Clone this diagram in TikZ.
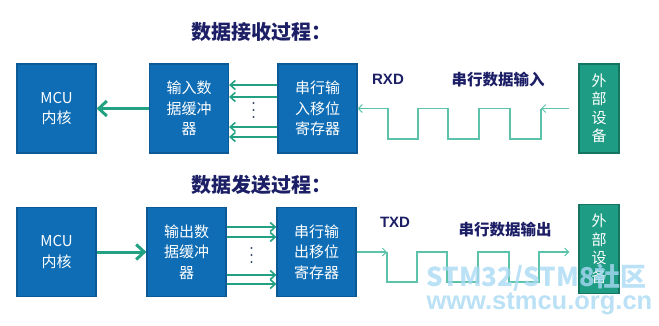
\documentclass[tikz,border=0pt]{standalone}
\usepackage{fontspec}
\setmainfont{Liberation Sans}
\newfontfamily\cjk{Noto Sans CJK SC}
\definecolor{boxblue}{HTML}{0F6DB5}
\definecolor{boxblueline}{HTML}{0B5A96}
\definecolor{devgreen}{HTML}{1E9C84}
\definecolor{devgreenline}{HTML}{157560}
\definecolor{arrowgreen}{HTML}{22A283}
\definecolor{wavegreen}{HTML}{5CC2AA}
\definecolor{titlenavy}{HTML}{1C1F66}
\definecolor{markblue}{HTML}{A9D9F2}
\definecolor{dotgray}{HTML}{3A4A6A}
\usetikzlibrary{arrows.meta, positioning, calc}
\tikzset{
	corebox/.style={
			rectangle,
			draw=boxblueline,
			fill=boxblue,
			line width=1.2pt,
			text=white,
			minimum width=79pt,
			minimum height=89pt,
			align=center,
			inner sep=0pt,
			font=\cjk\fontsize{15}{20.5}\selectfont
		},
	devbox/.style={
			corebox,
			draw=devgreenline,
			fill=devgreen,
			minimum width=40pt,
			font=\cjk\fontsize{15}{18.5}\selectfont
		},
	titletext/.style={
			text=titlenavy,
			font=\cjk\bfseries\fontsize{20}{22}\selectfont
		},
	labeltext/.style={
			text=titlenavy,
			font=\cjk\bfseries\fontsize{15.5}{18}\selectfont
		},
	pintext/.style={
			text=titlenavy,
			font=\bfseries\fontsize{15}{18}\selectfont
		},
	marktext/.style={
			text=markblue,
			opacity=0.8,
			anchor=west
		},
	bigarrow/.style={
			draw=arrowgreen,
			line width=3pt,
			-{Straight Barb[length=8pt,width=15pt,line width=3pt]}
		},
	busarrow/.style={
			draw=arrowgreen,
			line width=1.8pt,
			-{Straight Barb[length=5pt,width=9pt,line width=1.6pt]}
		},
	wave/.style={
			draw=wavegreen,
			line width=1.1pt
		},
	wavehead/.style={
			wave,
			-{Straight Barb[length=4pt,width=8pt,line width=1pt]}
		}
}
\begin{document}
\begin{tikzpicture}[x=1pt,y=-1pt]
\useasboundingbox (0,0) rectangle (659,325);

% receive
\node[titletext] (titleA) at (261,32) {数据接收过程：};
\node[corebox] (mcuA) at (56.5,108.5) {MCU\\内核};
\node[corebox] (bufA) at (189,108.5) {输入数\\据缓冲\\器};
\node[corebox] (srA) at (317.5,108.5) {串行输\\入移位\\寄存器};
\node[devbox] (extA) at (599,108.5) {外\\部\\设\\备};
\node[pintext] (rxd) at (388,79) {RXD};
\node[labeltext] (inA) at (498,80) {串行数据输入};
\foreach \y in {103,110,117}
  \fill[dotgray] (253.5,\y) circle (1.1pt);

\draw[bigarrow] (bufA.west) -- (mcuA.east);
\foreach \y in {85,97,127,137}
  \draw[busarrow] (srA.west |- 0,\y) -- (bufA.east |- 0,\y);

\coordinate (rxStart) at ($(extA.west)+(-9,0)$);
\draw[wavehead] (rxStart) -- (541,108.5);
\draw[wavehead] (541,108.5) -- (541,139) -- (510,139) -- (510,108.5) -- (479,108.5)
  -- (479,139) -- (448,139) -- (448,108.5) -- (418,108.5) -- (418,139)
  -- (388,139) -- (388,108.5) -- (srA.east);

% send
\node[titletext] (titleB) at (261,185) {数据发送过程：};
\node[corebox] (mcuB) at (56.5,252) {MCU\\内核};
\node[corebox] (bufB) at (186.5,252) {输出数\\据缓冲\\器};
\node[corebox] (srB) at (316.5,252) {串行输\\出移位\\寄存器};
\node[devbox] (extB) at (599,249) {外\\部\\设\\备};
\node[pintext] (txd) at (395,222) {TXD};
\node[labeltext] (outB) at (505,230) {串行数据输出};
\foreach \y in {248,255,262}
  \fill[dotgray] (251.5,\y) circle (1.1pt);

\draw[bigarrow] (mcuB.east) -- (bufB.west);
\foreach \y in {227,237,275,284}
  \draw[busarrow] (bufB.east |- 0,\y) -- (srB.west |- 0,\y);

\coordinate (txEnd) at ($(extB.west |- 0,252)+(-9,0)$);
\draw[wavehead] (srB.east |- 0,252) -- (387,252);
\draw[wavehead] (387,252) -- (387,282) -- (417,282) -- (417,252) -- (447,252)
  -- (447,282) -- (478,282) -- (478,252) -- (509,252) -- (509,282)
  -- (539,282) -- (539,252) -- (txEnd);

% watermark
\node[marktext, font=\cjk\bfseries\fontsize{26}{28}\selectfont] (markA) at (423,278) {STM32/STM8社区};
\node[marktext, font=\bfseries\fontsize{25.5}{27}\selectfont] (markB) at (423,304) {www.stmcu.org.cn};
\end{tikzpicture}
\end{document}
